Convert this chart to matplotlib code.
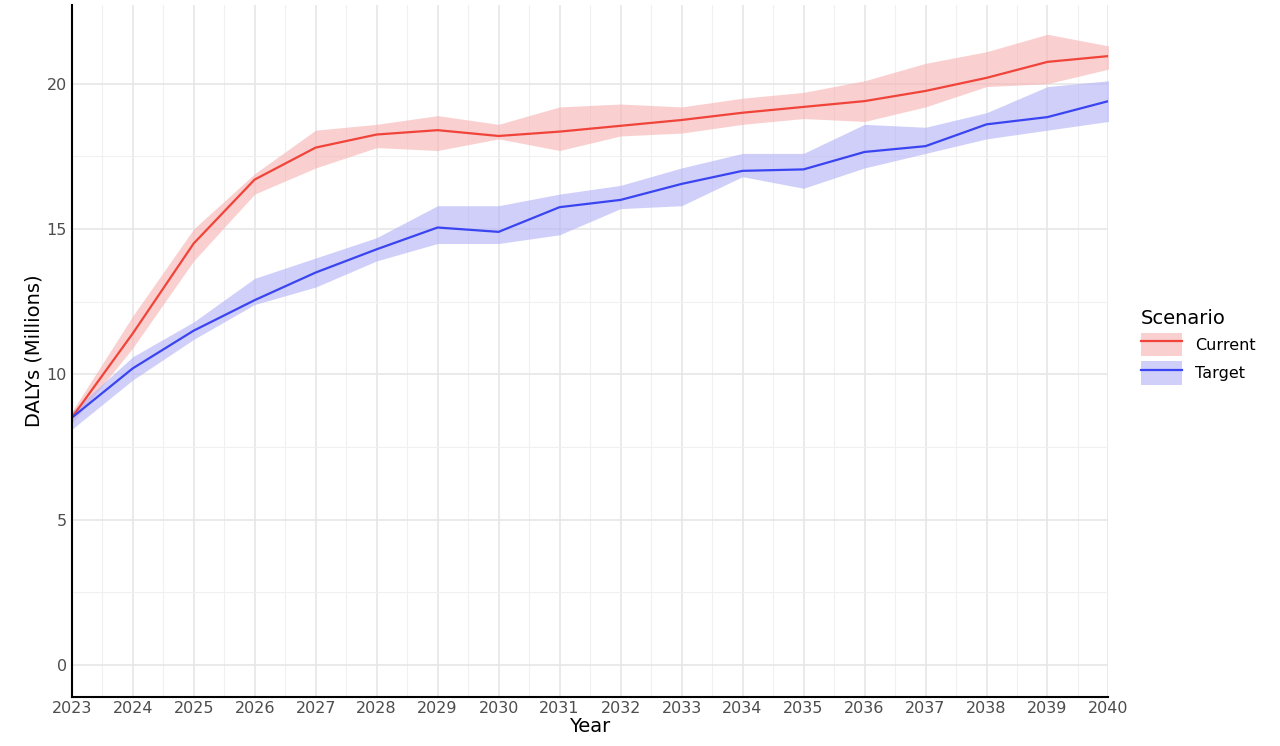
import matplotlib.pyplot as plt
import numpy as np
from matplotlib.patches import Patch

years = list(range(2023, 2041))
current = [8.5, 11.4, 14.5, 16.7, 17.8, 18.25, 18.4, 18.2, 18.35, 18.55, 18.75, 19.0, 19.2, 19.4, 19.75, 20.2, 20.75, 20.95]
current_lo = [8.3, 10.9, 13.9, 16.2, 17.1, 17.8, 17.7, 18.1, 17.7, 18.2, 18.3, 18.6, 18.8, 18.7, 19.2, 19.9, 20.0, 20.5]
current_hi = [8.7, 12.0, 15.0, 16.9, 18.4, 18.6, 18.9, 18.6, 19.2, 19.3, 19.2, 19.5, 19.7, 20.1, 20.7, 21.1, 21.7, 21.3]
target = [8.5, 10.2, 11.5, 12.55, 13.5, 14.3, 15.05, 14.9, 15.75, 16.0, 16.55, 17.0, 17.05, 17.65, 17.85, 18.6, 18.85, 19.4]
target_lo = [8.1, 9.8, 11.2, 12.4, 13.0, 13.9, 14.5, 14.5, 14.8, 15.7, 15.8, 16.8, 16.4, 17.1, 17.6, 18.1, 18.4, 18.7]
target_hi = [8.7, 10.6, 11.8, 13.3, 14.0, 14.7, 15.8, 15.8, 16.2, 16.5, 17.1, 17.6, 17.6, 18.6, 18.5, 19.0, 19.9, 20.1]

RED = '#f0443a'
BLUE = '#3a44f0'

fig = plt.figure(figsize=(12.8, 7.46), dpi=100)
ax = fig.add_axes([0.056, 0.066, 0.81, 0.927])

ax.fill_between(years, current_lo, current_hi, color='#f8b0b0', alpha=0.6, lw=0)
ax.fill_between(years, target_lo, target_hi, color='#b0b0f8', alpha=0.6, lw=0)
l1, = ax.plot(years, current, color=RED, lw=1.6)
l2, = ax.plot(years, target, color=BLUE, lw=1.6)

ax.set_xlim(2023, 2040)
ax.set_ylim(-1.1, 22.7)
ax.set_xticks(years)
ax.set_xticks(np.arange(2023.5, 2040, 1), minor=True)
ax.set_yticks([0, 5, 10, 15, 20])
ax.set_yticks([2.5, 7.5, 12.5, 17.5], minor=True)
ax.grid(which='major', color='#e6e6e6', lw=1.2)
ax.grid(which='minor', color='#f0f0f0', lw=0.8)
ax.set_axisbelow(True)
for s in ['top', 'right']:
    ax.spines[s].set_visible(False)
for s in ['left', 'bottom']:
    ax.spines[s].set_color('black')
    ax.spines[s].set_linewidth(1.5)
ax.tick_params(which='both', length=0, labelsize=11.5, colors='#4d4d4d')
ax.tick_params(axis='x', pad=3)
ax.set_xlabel('Year', fontsize=14, labelpad=1)
ax.set_ylabel('DALYs (Millions)', fontsize=14, labelpad=2)

h1 = (Patch(color='#f8b0b0', alpha=0.6, lw=0), l1)
h2 = (Patch(color='#b0b0f8', alpha=0.6, lw=0), l2)
fig.legend([h1, h2], ['Current', 'Target'], title='Scenario', loc='upper left',
           bbox_to_anchor=(0.88, 0.605), frameon=False, fontsize=11.5,
           title_fontsize=14, handlelength=2.6, handleheight=1.9,
           labelspacing=0.3, alignment='left')

fig.savefig('out.png')
